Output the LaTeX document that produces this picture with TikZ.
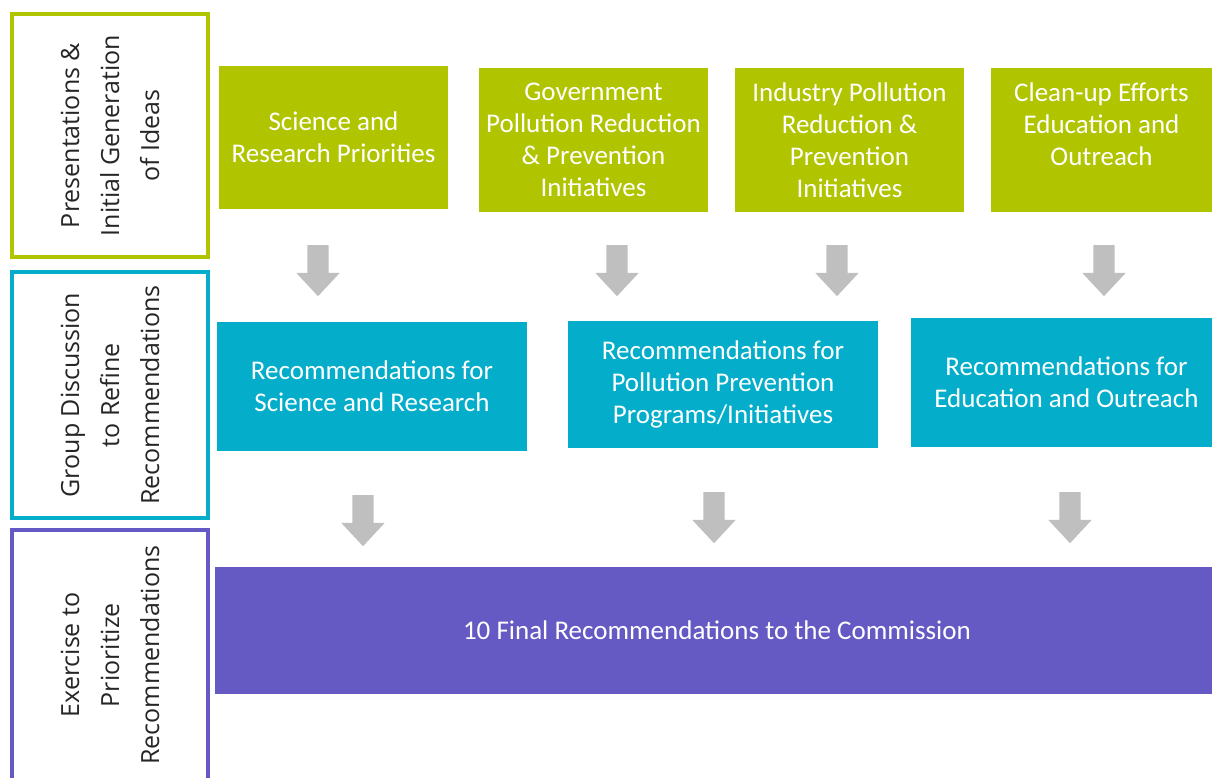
\documentclass[tikz,border=0pt]{standalone}
\usepackage{fontspec}
\setmainfont{Carlito}
\newfontfamily\sidefont{Open Sans}
\usetikzlibrary{shapes.arrows}
\definecolor{wf_green}{RGB}{176, 196, 0}
\definecolor{wf_cyan}{RGB}{4, 174, 203}
\definecolor{wf_purple}{RGB}{101, 89, 196}
\definecolor{wf_grey}{RGB}{191, 191, 191}
\tikzstyle{box}=[rectangle,text=white,align=center,inner sep=2pt,
  font=\fontsize{27}{32}\selectfont]
\tikzstyle{gbox}=[box,fill=wf_green,minimum width=229pt,minimum height=144pt]
\tikzstyle{cbox}=[box,fill=wf_cyan,minimum width=310pt,minimum height=128pt]
\tikzstyle{pbox}=[box,fill=wf_purple,minimum width=997pt,minimum height=127pt]
\tikzstyle{side}=[rectangle,rotate=90,fill=white,line width=4pt,align=center,
  text=black!85,minimum height=196pt,font=\sidefont\fontsize{25}{40}\selectfont]
\tikzstyle{darr}=[single arrow,rotate=-90,anchor=tail,fill=wf_grey,
  inner xsep=0pt,inner ysep=10.5pt,single arrow head extend=11pt,
  single arrow tip angle=86,minimum height=51pt]

\begin{document}
\begin{tikzpicture}[x=1pt,y=-1pt]
    \useasboundingbox (0,0) rectangle (1212,777);
    % stage labels
    \node [style=side,draw=wf_green,minimum width=243pt] (s1) at (110,135.5)
      {Presentations \&\\Initial Generation\\of Ideas};
    \node [style=side,draw=wf_cyan,minimum width=246pt] (s2) at (110,395)
      {Group Discussion\\to Refine\\Recommendations};
    \node [style=side,draw=wf_purple,minimum width=250pt] (s3) at (110,655)
      {Exercise to\\Prioritize\\Recommendations};
    % ideas
    \node [style=gbox,minimum height=143pt] (g1) at (333.5,137.5)
      {Science and\\Research Priorities};
    \node [style=gbox] (g2) at (593.5,140)
      {Government\\Pollution Reduction\\\& Prevention\\Initiatives};
    \node [style=gbox] (g3) at (849.5,140)
      {Industry Pollution\\Reduction \&\\Prevention\\Initiatives};
    \node [style=gbox,minimum width=221pt] (g4) at (1101.5,140)
      {Clean-up Efforts\\Education and\\Outreach\\\mbox{}};
    % recommendations
    \node [style=cbox,minimum height=129pt] (c1) at (372,386.5)
      {Recommendations for\\Science and Research};
    \node [style=cbox,minimum height=127pt] (c2) at (723,384.5)
      {Recommendations for\\Pollution Prevention\\Programs/Initiatives};
    \node [style=cbox,minimum width=301pt,minimum height=129pt] (c3) at (1061.5,382.5)
      {\hspace{10pt}Recommendations for\\\hspace{10pt}Education and Outreach};
    \node [style=pbox] (final) at (713.5,630.5)
      {\hspace{7pt}10 Final Recommendations to the Commission};
    % arrows
    \node [style=darr] (a1) at (318,245) {};
    \node [style=darr] (a2) at (617,245) {};
    \node [style=darr] (a3) at (837,245) {};
    \node [style=darr] (a4) at (1104,245) {};
    \node [style=darr] (b1) at (363,495) {};
    \node [style=darr] (b2) at (714,492) {};
    \node [style=darr] (b3) at (1070,492) {};
  \end{tikzpicture}
\end{document}
